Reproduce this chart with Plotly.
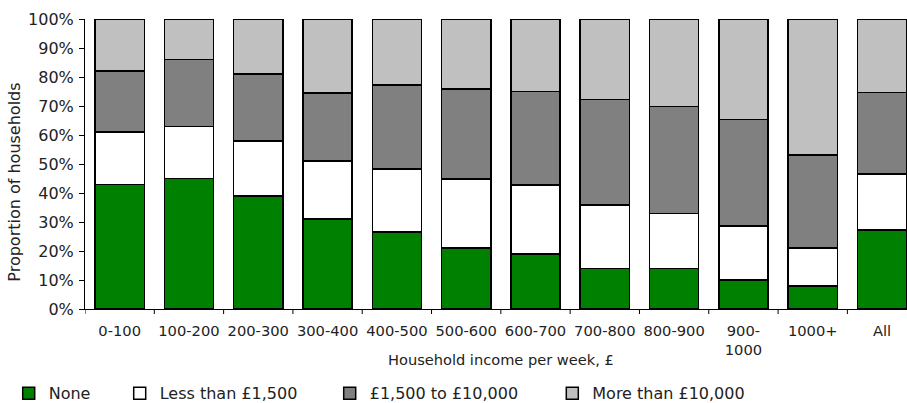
import plotly.graph_objects as go

categories = ["0-100", "100-200", "200-300", "300-400", "400-500", "500-600",
              "600-700", "700-800", "800-900", "900-<br>1000", "1000+", "All"]
none_vals = [43, 45, 39, 31, 26.5, 21, 19, 14, 14, 10, 8, 27.3]
lt1500_vals = [18, 18, 19, 20, 21.8, 23.8, 23.8, 21.9, 19, 18.6, 13, 19.2]
mid_vals = [21, 23, 23, 23.5, 28.9, 31.1, 32.2, 36.3, 36.9, 36.7, 32.1, 28.2]
gt10000_vals = [18, 14, 19, 25.5, 22.8, 24.1, 25, 27.8, 30.1, 34.7, 46.9, 25.3]
series_names = ["None", "Less than £1,500", "£1,500 to £10,000", "More than £10,000"]
y_ticks = [0, 10, 20, 30, 40, 50, 60, 70, 80, 90, 100]
y_ticklabels = [f"{v}%" for v in y_ticks]

W, H = 907, 403
FONT = "DejaVu Sans"
TXT = "#222222"

colors = ["#008000", "#FFFFFF", "#808080", "#C0C0C0"]
series = [none_vals, lt1500_vals, mid_vals, gt10000_vals]
legend_ids = ["legend", "legend2", "legend3", "legend4"]
legend_text_x = [45.7, 156.7, 366.7, 589.3]

fig = go.Figure()
for name, vals, col, lid in zip(series_names, series, colors, legend_ids):
    fig.add_trace(go.Bar(
        x=list(range(len(categories))), y=vals, name=name,
        marker=dict(color=col, line=dict(color="#000000", width=1.5)),
        legend=lid,
    ))

layout_legends = {}
for lid, tx in zip(legend_ids, legend_text_x):
    layout_legends[lid] = dict(
        orientation="h", xref="container", yref="container",
        x=(tx - 37) / W, xanchor="left", y=1 - 393.3 / H, yanchor="middle",
        font=dict(family=FONT, size=16, color=TXT),
        bgcolor="rgba(0,0,0,0)", borderwidth=0,
    )

fig.update_layout(
    width=W, height=H,
    margin=dict(l=85, r=0, t=19.3, b=93.7),
    barmode="stack", bargap=0.29,
    plot_bgcolor="white", paper_bgcolor="white",
    showlegend=True,
    font=dict(family=FONT, color=TXT),
    xaxis=dict(
        type="linear", range=[-0.5, 11.36],
        tickmode="array", tickvals=list(range(len(categories))), ticktext=categories,
        showline=True, linecolor="#000000", linewidth=1,
        ticks="", showgrid=False, zeroline=False, ticklabelstandoff=8,
        tickfont=dict(family=FONT, size=14.7, color=TXT),
    ),
    yaxis=dict(
        range=[0, 100], tickmode="array", tickvals=y_ticks, ticktext=y_ticklabels,
        showline=True, linecolor="#000000", linewidth=1,
        ticks="outside", ticklen=5, tickcolor="#000000",
        showgrid=False, zeroline=False, ticklabelstandoff=2,
        tickfont=dict(family=FONT, size=16, color=TXT),
    ),
    annotations=[
        dict(text="Household income per week, £", xref="paper", yref="paper",
             x=(501 - 85) / (W - 85), y=-(359.3 - 309.3) / 290, xanchor="center", yanchor="middle",
             showarrow=False, font=dict(family=FONT, size=14.6, color=TXT)),
        dict(text="Proportion of households", xref="paper", yref="paper",
             x=-(85 - 15) / (W - 85), y=(309.3 - 183) / 290, xanchor="center", yanchor="middle",
             textangle=-90, showarrow=False, font=dict(family=FONT, size=16, color=TXT)),
    ],
    **layout_legends,
)

# category boundary tick marks on x axis
for b in range(len(categories) + 1):
    xb = b - 0.5
    if xb > 11.36:
        break
    fig.add_shape(type="line", xref="x", yref="paper", x0=xb, x1=xb, y0=0, y1=-5 / 290,
                  line=dict(color="#000000", width=1))

fig.write_html("out.html")
